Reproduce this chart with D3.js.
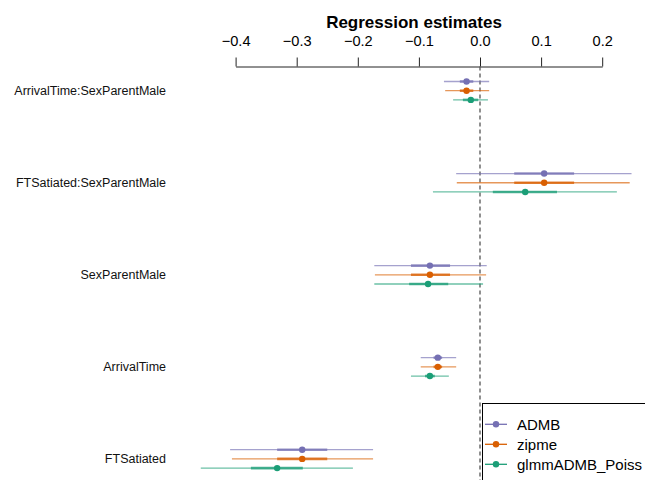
<!DOCTYPE html>
<html>
<head>
<meta charset="utf-8">
<script src="https://cdn.jsdelivr.net/npm/d3@7/dist/d3.min.js"></script>
<style>
  html, body { margin: 0; padding: 0; background: #fff; }
  svg { display: block; font-family: "Liberation Sans", Arial, sans-serif; }
</style>
</head>
<body>
<svg id="chart" width="645" height="480"></svg>
<script>
// Model terms, top to bottom
const terms = ["ArrivalTime:SexParentMale", "FTSatiated:SexParentMale", "SexParentMale", "ArrivalTime", "FTSatiated"];
const models = ["ADMB", "zipme", "glmmADMB_Poiss"];
const colors = ["#7570B3", "#D95F02", "#1B9E77"];
const ticks = [-0.4, -0.3, -0.2, -0.1, 0.0, 0.1, 0.2];

// Point estimates per model (same order as terms)
const estADMB  = [-0.022, 0.105, -0.082, -0.069, -0.291];
const estZipme = [-0.022, 0.105, -0.082, -0.069, -0.291];
const estGlmm  = [-0.015, 0.074, -0.085, -0.082, -0.332];

// Outer (wide) intervals
const loADMB  = [-0.059, -0.039, -0.173, -0.097, -0.409];
const hiADMB  = [ 0.015,  0.248,  0.011, -0.039, -0.175];
const loZipme = [-0.057, -0.038, -0.172, -0.097, -0.406];
const hiZipme = [ 0.015,  0.245,  0.010, -0.039, -0.175];
const loGlmm  = [-0.044, -0.077, -0.173, -0.113, -0.457];
const hiGlmm  = [ 0.013,  0.224,  0.005, -0.051, -0.208];

// Inner (narrow) intervals
const inLoADMB  = [-0.033, 0.056, -0.113, -0.076, -0.332];
const inHiADMB  = [-0.011, 0.154, -0.049, -0.062, -0.250];
const inLoZipme = [-0.033, 0.056, -0.113, -0.076, -0.332];
const inHiZipme = [-0.011, 0.154, -0.049, -0.062, -0.250];
const inLoGlmm  = [-0.028, 0.021, -0.116, -0.090, -0.375];
const inHiGlmm  = [-0.003, 0.126, -0.052, -0.074, -0.290];

const est  = [estADMB, estZipme, estGlmm];
const lo   = [loADMB, loZipme, loGlmm];
const hi   = [hiADMB, hiZipme, hiGlmm];
const inLo = [inLoADMB, inLoZipme, inLoGlmm];
const inHi = [inHiADMB, inHiZipme, inHiGlmm];

const rows = [];
models.forEach((m, mi) => {
  terms.forEach((t, ti) => {
    rows.push({ model: m, mi, term: t,
      est: est[mi][ti], lo: lo[mi][ti], hi: hi[mi][ti],
      inLo: inLo[mi][ti], inHi: inHi[mi][ti] });
  });
});

const svg = d3.select("#chart");

const x = d3.scaleLinear().domain([-0.4, 0.2]).range([235.6, 602.2]);
const y = d3.scalePoint().domain(terms).range([90.8, 459]);
const dy = d3.scalePoint().domain(models).range([-9.3, 9.1]);
const color = d3.scaleOrdinal().domain(models).range(colors);

const axisY = 66.5;

// Title
svg.append("text")
  .attr("x", 414).attr("y", 28)
  .attr("text-anchor", "middle")
  .attr("font-size", 17).attr("font-weight", "bold")
  .attr("fill", "#000")
  .text("Regression estimates");

// Top axis
const axis = svg.append("g")
  .attr("transform", `translate(0,${axisY})`)
  .call(d3.axisTop(x).tickValues(ticks).tickFormat(d3.format(".1f"))
        .tickSize(9).tickSizeOuter(0).tickPadding(12));
axis.selectAll("path, line").attr("stroke", "#222").attr("stroke-width", 1);
axis.selectAll("text").attr("font-size", 14.6).attr("fill", "#000")
  .attr("font-family", "\"Liberation Sans\", Arial, sans-serif");

// Zero reference line
svg.append("line")
  .attr("x1", x(0)).attr("x2", x(0))
  .attr("y1", axisY).attr("y2", 480)
  .attr("stroke", "#555").attr("stroke-width", 1.3)
  .attr("stroke-dasharray", "4,3");

// Term labels
svg.append("g").selectAll("text")
  .data(terms).join("text")
  .attr("x", 166).attr("y", d => y(d))
  .attr("dy", "0.35em")
  .attr("text-anchor", "end")
  .attr("font-size", 12.5).attr("fill", "#111")
  .text(d => d);

// Intervals and estimates
const g = svg.append("g");
const ypos = d => y(d.term) + dy(d.model);

g.selectAll("line.outer").data(rows).join("line")
  .attr("class", "outer")
  .attr("x1", d => x(d.lo)).attr("x2", d => x(d.hi))
  .attr("y1", ypos).attr("y2", ypos)
  .attr("stroke", d => color(d.model))
  .attr("stroke-opacity", 0.65)
  .attr("stroke-width", 1.3);

g.selectAll("line.inner").data(rows).join("line")
  .attr("class", "inner")
  .attr("x1", d => x(d.inLo)).attr("x2", d => x(d.inHi))
  .attr("y1", ypos).attr("y2", ypos)
  .attr("stroke", d => color(d.model))
  .attr("stroke-opacity", 0.75)
  .attr("stroke-width", 2.6);

g.selectAll("circle").data(rows).join("circle")
  .attr("cx", d => x(d.est)).attr("cy", ypos)
  .attr("r", 3.2)
  .attr("fill", d => color(d.model));

// Legend
const legend = svg.append("g");
legend.append("rect")
  .attr("x", 482.5).attr("y", 403.5)
  .attr("width", 200).attr("height", 120)
  .attr("fill", "#fff").attr("stroke", "#000").attr("stroke-width", 1);

const items = legend.selectAll("g.item").data(models).join("g")
  .attr("class", "item")
  .attr("transform", (d, i) => `translate(0,${424.3 + i * 20})`);
items.append("line")
  .attr("x1", 485).attr("x2", 507).attr("y1", 0).attr("y2", 0)
  .attr("stroke", d => color(d)).attr("stroke-width", 1.3);
items.append("circle")
  .attr("cx", 496).attr("cy", 0).attr("r", 3.2)
  .attr("fill", d => color(d));
items.append("text")
  .attr("x", 517).attr("y", 0).attr("dy", "0.36em")
  .attr("font-size", 15).attr("fill", "#000")
  .text(d => d);
</script>
</body>
</html>
